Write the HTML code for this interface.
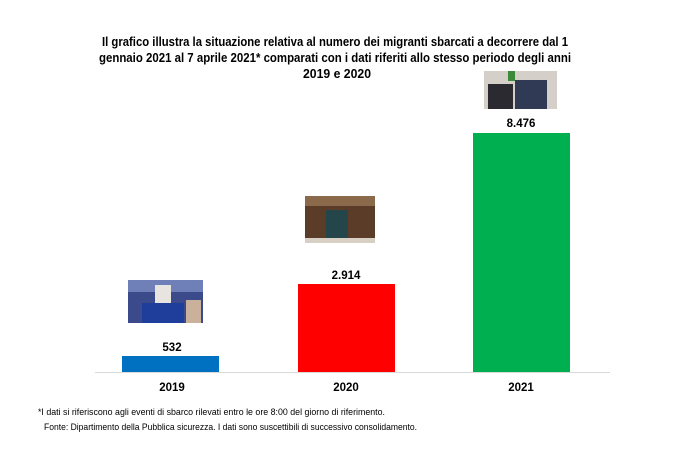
<!DOCTYPE html>
<html><head><meta charset="utf-8"><style>body{margin:0;background:#fff}svg{display:block}</style></head>
<body>
<svg width="690" height="459" viewBox="0 0 690 459" xmlns="http://www.w3.org/2000/svg" font-family="Liberation Sans, sans-serif">
<g font-weight="bold" font-size="12.5" fill="#000" text-anchor="middle">
<text x="335" y="46" textLength="466" lengthAdjust="spacingAndGlyphs">Il grafico illustra la situazione relativa al numero dei migranti sbarcati a decorrere dal 1</text>
<text x="335" y="62" textLength="472" lengthAdjust="spacingAndGlyphs">gennaio 2021 al 7 aprile 2021* comparati con i dati riferiti allo stesso periodo degli anni</text>
<text x="337" y="78" textLength="68" lengthAdjust="spacingAndGlyphs">2019  e 2020</text>
</g>
<!-- bars -->
<rect x="122" y="356" width="97" height="16" fill="#0070c0"/>
<rect x="298" y="284" width="97" height="88" fill="#ff0000"/>
<rect x="473" y="133" width="97" height="239" fill="#00b050"/>
<line x1="95" y1="372.5" x2="610" y2="372.5" stroke="#d9d9d9" stroke-width="1"/>
<g font-weight="bold" font-size="11.5" text-anchor="middle">
<text x="172" y="351">532</text>
<text x="346" y="279">2.914</text>
<text x="521" y="127">8.476</text>
<text x="172" y="391">2019</text>
<text x="346" y="391">2020</text>
<text x="521" y="391">2021</text>
</g>
<!-- photo 2019 -->
<rect x="128" y="280" width="75" height="43" fill="#3a4a8a"/>
<rect x="128" y="280" width="75" height="12" fill="#6f7fb8"/>
<rect x="142" y="303" width="42" height="20" fill="#1f3d9a"/>
<rect x="155" y="285" width="16" height="18" fill="#e8e4e0"/>
<rect x="186" y="300" width="15" height="23" fill="#c9b19c"/>
<!-- photo 2020 -->
<rect x="305" y="196" width="70" height="47" fill="#5a3c28"/>
<rect x="305" y="196" width="70" height="10" fill="#8a6a4a"/>
<rect x="326" y="210" width="22" height="30" fill="#24454a"/>
<rect x="305" y="238" width="70" height="5" fill="#d8d0c4"/>
<!-- photo 2021 -->
<rect x="484" y="71" width="73" height="38" fill="#d4cfc8"/>
<rect x="488" y="84" width="25" height="25" fill="#2a2a30"/>
<rect x="515" y="80" width="32" height="29" fill="#303a55"/>
<rect x="508" y="71" width="7" height="10" fill="#3a8a3a"/>
<g font-size="8.8" fill="#000">
<text x="38" y="415" textLength="347" lengthAdjust="spacingAndGlyphs">*I dati si riferiscono agli eventi di sbarco rilevati entro le ore 8:00 del giorno di riferimento.</text>
<text x="44" y="430" textLength="373" lengthAdjust="spacingAndGlyphs">Fonte: Dipartimento della Pubblica sicurezza. I dati sono suscettibili di successivo consolidamento.</text>
</g>
</svg>
</body></html>
